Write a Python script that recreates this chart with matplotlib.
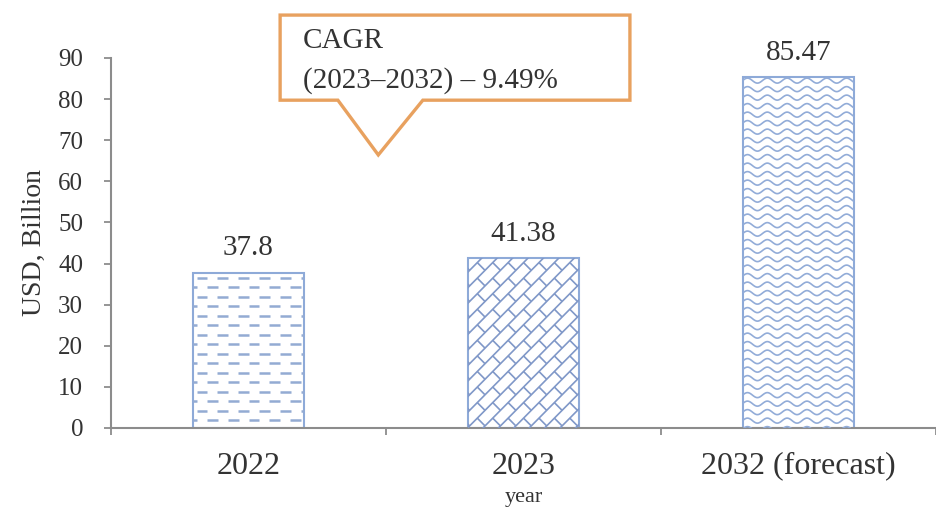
import numpy as np
import matplotlib
matplotlib.use("Agg")
import matplotlib.pyplot as plt
from matplotlib.collections import LineCollection
from matplotlib.patches import Polygon

plt.rcParams['font.family'] = ['Liberation Serif', 'DejaVu Serif']

years = ['2022', '2023', '2032 (forecast)']
values = [37.8, 41.38, 85.47]
value_labels = ['37.8', '41.38', '85.47']
yticks = [0, 10, 20, 30, 40, 50, 60, 70, 80, 90]
cagr_text = ['CAGR', '(2023\u20132032) \u2013 9.49%']

W, H = 936, 509
fig = plt.figure(figsize=(W / 100, H / 100), dpi=100)
ax = fig.add_axes([111 / W, 1 - 428 / H, (W - 111) / W, 370 / H])

x = np.arange(len(years))
ax.set_xlim(-0.5, -0.5 + 825 / 277.5)
ax.set_ylim(0, 90)

bars = ax.bar(x, values, width=0.407, color='white', edgecolor='#8eaad8',
              linewidth=1.5, zorder=2)

# pixels per data unit, to build textures in screen-like units
sx = 825 / (ax.get_xlim()[1] - ax.get_xlim()[0])
sy = 370 / 90.0


def dash_texture(rect):
    x0, w, h = rect.get_x(), rect.get_width(), rect.get_height()
    wp, hp = w * sx, h * sy
    segs = []
    row, yy = 0, hp - 5
    while yy > 0:
        off = 4 if row % 2 == 0 else 14.5
        xx = off - 21
        while xx < wp:
            segs.append([(x0 + xx / sx, yy / sy), (x0 + (xx + 11) / sx, yy / sy)])
            xx += 21
        yy -= 9.5
        row += 1
    return LineCollection(segs, colors='#93abd3', linewidths=1.8, zorder=3)


def brick_texture(rect):
    x0, w, h = rect.get_x(), rect.get_width(), rect.get_height()
    wp, hp = w * sx, h * sy
    d, L = 11.0, 22.0
    eu = np.array([1, 1]) / np.sqrt(2)
    ev = np.array([-1, 1]) / np.sqrt(2)
    R = wp + hp
    segs = []

    def to_data(u, v):
        p = u * eu + v * ev
        return (x0 + p[0] / sx, p[1] / sy)

    for k in range(int(-R / d) - 1, int(R / d) + 2):
        v = k * d
        segs.append([to_data(-R, v), to_data(2 * R, v)])
        u = -R + (k % 2) * L / 2
        while u < 2 * R:
            segs.append([to_data(u, v), to_data(u, v + d)])
            u += L
    return LineCollection(segs, colors='#8098c8', linewidths=1.2, zorder=3)


def wave_texture(rect):
    x0, w, h = rect.get_x(), rect.get_width(), rect.get_height()
    wp, hp = w * sx, h * sy
    xs = np.linspace(0, wp, int(wp * 2))
    segs = []
    yy = hp - 4
    while yy > -5:
        ys = yy + 2.5 * np.sin(2 * np.pi * xs / 20.0)
        segs.append(np.column_stack([x0 + xs / sx, ys / sy]))
        yy -= 8.5
    return LineCollection(segs, colors='#92acd8', linewidths=1.2, zorder=3)


for rect, make in zip(bars, [dash_texture, brick_texture, wave_texture]):
    lc = make(rect)
    ax.add_collection(lc)
    lc.set_clip_path(rect)

for xi, v, lab in zip(x, values, value_labels):
    ax.annotate(lab, (xi, v), xytext=(0, 8), textcoords='offset points',
                ha='center', va='bottom', fontsize=21, color='#333333')

# axes styling
for s in ['top', 'right']:
    ax.spines[s].set_visible(False)
for s in ['left', 'bottom']:
    ax.spines[s].set_color('#8c8c8c')
    ax.spines[s].set_linewidth(1.5)

ax.set_yticks(yticks)
ax.tick_params(axis='y', length=5, width=1.3, color='#8c8c8c', pad=15,
               labelsize=18, labelcolor='#333333')
ax.set_xticks(x)
ax.set_xticklabels(years)
ax.tick_params(axis='x', which='major', length=0, pad=17, labelsize=23,
               labelcolor='#333333')
ax.set_xticks([-0.5, 0.5, 1.5, 2.5], minor=True)
ax.tick_params(axis='x', which='minor', length=5, width=1.3, color='#8c8c8c')

ax.set_ylabel('USD, Billion', fontsize=20, color='#333333', labelpad=8)
ax.set_xlabel('year', fontsize=16, color='#333333', labelpad=5)

# CAGR callout
bx0, bx1, by0, by1 = 0.205, 0.629, 0.886, 1.116
call = Polygon([(bx0, by1), (bx1, by1), (bx1, by0), (0.378, by0),
                (0.324, 0.738), (0.275, by0), (bx0, by0)],
               closed=True, transform=ax.transAxes, clip_on=False,
               facecolor='white', edgecolor='#e8a15f', linewidth=2.4, zorder=5)
ax.add_patch(call)
ax.text(0.233, 1.046, cagr_text[0], transform=ax.transAxes, fontsize=21,
        va='center', ha='left', color='#333333', zorder=6)
ax.text(0.233, 0.940, cagr_text[1], transform=ax.transAxes, fontsize=21,
        va='center', ha='left', color='#333333', zorder=6)

fig.savefig('out.png', dpi=100)
